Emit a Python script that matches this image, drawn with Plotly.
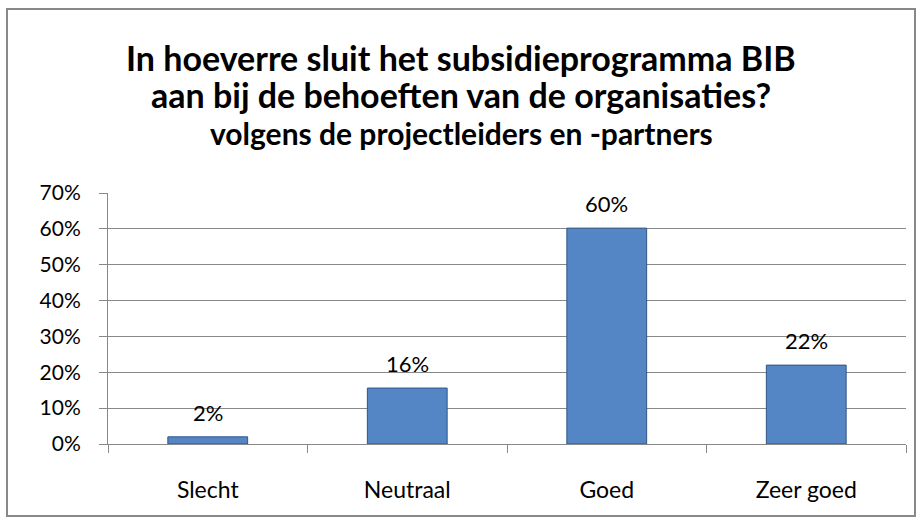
import plotly.graph_objects as go

categories = ["Slecht", "Neutraal", "Goed", "Zeer goed"]
shares = [0.02, 0.156, 0.602, 0.22]
y_ticks = [0, 0.1, 0.2, 0.3, 0.4, 0.5, 0.6, 0.7]

title_lines = [
    "In hoeverre sluit het subsidieprogramma BIB",
    "aan bij de behoeften van de organisaties?",
    "volgens de projectleiders en -partners",
]

W, H = 923, 524
L, R, T, B = 108, 17, 193, 80
font = "Lato, Open Sans, sans-serif"

fig = go.Figure()
fig.add_trace(go.Bar(
    x=categories, y=shares,
    marker=dict(color="#5486C6", line=dict(color="#2F5584", width=1)),
    cliponaxis=False,
))

for c, v in zip(categories, shares):
    fig.add_annotation(x=c, y=v, text=f"{v:.0%}", showarrow=False,
                       yanchor="bottom", yshift=9,
                       font=dict(family=font, size=22, color="#000"))

pw = W - L - R
ph = H - T - B


def py(p):
    return (H - B - p) / ph


def px(p):
    return (p - L) / pw


for txt, ypix, size in zip(title_lines, [57, 95, 133], [34, 34, 30]):
    fig.add_annotation(x=px(461), y=py(ypix), xref="paper", yref="paper",
                       text=f"<b>{txt}</b>", showarrow=False,
                       xanchor="center", yanchor="middle",
                       font=dict(family=font, size=size, color="#000"))

fig.update_layout(
    width=W, height=H,
    margin=dict(l=L, r=R, t=T, b=B),
    paper_bgcolor="white", plot_bgcolor="white",
    showlegend=False,
    bargap=0.6,
    font=dict(family=font, color="#000"),
    xaxis=dict(
        showline=True, linecolor="#888", linewidth=1,
        ticks="outside", tickson="boundaries", ticklen=8, tickcolor="#888",
        tickfont=dict(size=23, family=font, color="#000"),
        ticklabelstandoff=25,
        showgrid=False,
    ),
    yaxis=dict(
        range=[0, 0.7], tickvals=y_ticks, tickformat=".0%",
        showline=True, linecolor="#888", linewidth=1,
        ticks="outside", ticklen=8, tickcolor="#888",
        showgrid=True, gridcolor="#888", gridwidth=1,
        tickfont=dict(size=21, family=font, color="#000"),
        ticklabelstandoff=14,
        zeroline=False,
    ),
)

fig.add_shape(
    type="rect", xref="paper", yref="paper",
    x0=px(7), x1=px(915),
    y0=py(516), y1=py(9),
    line=dict(color="#888", width=2), layer="below",
)

fig.write_html("out.html", config={"displayModeBar": False},
               post_script="document.body.style.margin='0';")
